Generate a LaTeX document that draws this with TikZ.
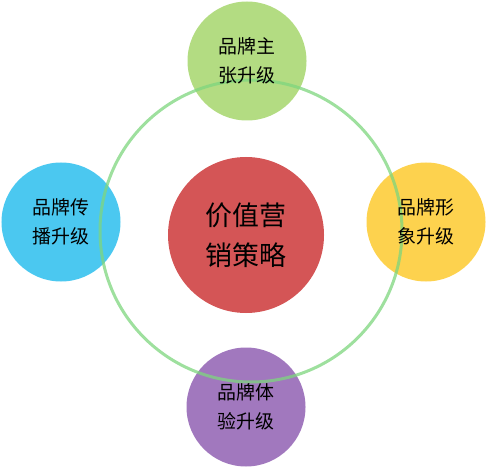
\documentclass[tikz,border=0pt]{standalone}
\usepackage{fontspec}
\newfontfamily\cjk{Noto Sans CJK SC}
\definecolor{cgreen}{HTML}{B3DC82}
\definecolor{cblue}{HTML}{4BC8F0}
\definecolor{cyellow}{HTML}{FDD24E}
\definecolor{cred}{HTML}{D45556}
\definecolor{cpurple}{HTML}{A178BE}
\definecolor{cring}{HTML}{7ED67E}
\begin{document}
\begin{tikzpicture}[x=1bp,y=-1bp,
  bubble/.style={circle,inner sep=0pt,minimum size=119bp,align=center,
    font=\cjk\fontsize{19}{29}\selectfont,text=black},
  core/.style={circle,inner sep=0pt,minimum size=156bp,align=center,
    font=\cjk\fontsize{27}{40}\selectfont,text=black},
  ring/.style={draw=cring,line width=3bp,opacity=0.75}]
\useasboundingbox (0,0) rectangle (487,467);
\node[core,fill=cred] (center) at (246,235) {价值营\\销策略};
\node[bubble,fill=cgreen] (top) at (247,61) {};
\node[bubble,fill=cblue] (left) at (61,222) {};
\node[bubble,fill=cyellow] (right) at (426,222) {};
\node[bubble,fill=cpurple] (bottom) at (246,407) {};
\draw[ring] (251,231) circle[radius=151];
\node[bubble] at (top) {品牌主\\张升级};
\node[bubble] at (left) {品牌传\\播升级};
\node[bubble] at (right) {品牌形\\象升级};
\node[bubble] at (bottom) {品牌体\\验升级};
\end{tikzpicture}
\end{document}
